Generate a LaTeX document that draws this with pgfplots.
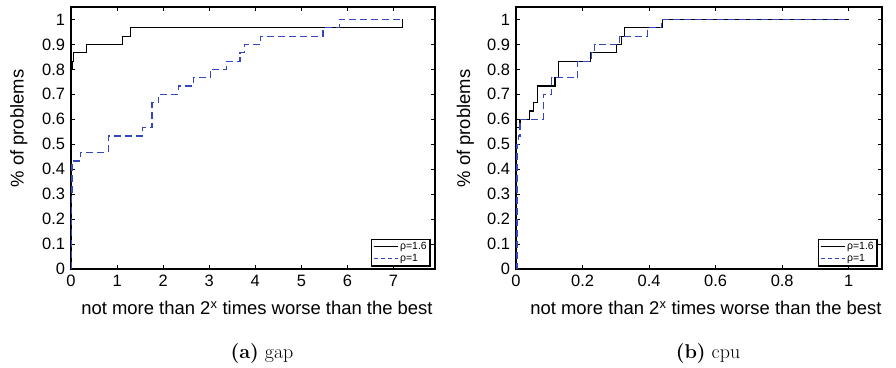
\documentclass[border=0pt]{standalone}
\usepackage{fontspec}
\newfontfamily\arial{Liberation Sans}
\usepackage{pgfplots}
\pgfplotsset{compat=1.18}
\definecolor{mblue}{RGB}{50,70,190}
\pgfplotsset{
  mystyle/.style={
    scale only axis, height=262bp, anchor=south west,
    ymin=0, ymax=1.05,
    ytick={0,0.1,0.2,0.3,0.4,0.5,0.6,0.7,0.8,0.9,1},
    yticklabels={0,0.1,0.2,0.3,0.4,0.5,0.6,0.7,0.8,0.9,1},
    tick align=inside, tick pos=both, major tick length=4bp,
    axis line style={line width=1.4bp},
    every tick/.style={black, line width=0.9bp},
    tick label style={font=\arial\fontsize{16.5}{19}\selectfont},
    /pgf/number format/assume math mode=true,
    yticklabel style={xshift=-2.5bp},
    xticklabel style={yshift=-3bp},
    legend style={at={(rel axis cs:0.989,0.009)}, anchor=south east,
      line width=1.5bp, font=\arial\fontsize{10.5}{12}\selectfont,
      inner xsep=1.5bp, inner ysep=1bp, row sep=-1bp,
      /tikz/every even column/.append style={column sep=1bp}},
    legend cell align=left,
  }
}
\begin{document}
\begin{tikzpicture}
\useasboundingbox (0,0) rectangle (896bp,368bp);
\begin{axis}[mystyle, name=A, at={(71bp,99bp)}, width=364bp,
  xmin=0, xmax=7.9, xtick={0,1,2,3,4,5,6,7}, xticklabels={0,1,2,3,4,5,6,7}]
\addlegendimage{legend image code/.code={\draw[black, solid, line width=1.1bp] (0bp,0bp) -- (24bp,0bp);}}
\addlegendimage{legend image code/.code={\draw[mblue, line width=1.1bp, dash pattern=on 4bp off 3bp] (0bp,0bp) -- (24bp,0bp);}}
\addplot[black, const plot, line width=1.2bp] coordinates {
(0,0) (0.005,0.8) (0.03,0.833) (0.06,0.867) (0.34,0.9) (1.11,0.933) (1.30,0.967) (7.2,1.0)};
\addplot[mblue, const plot, line width=1.2bp, dash pattern=on 7bp off 4bp] coordinates {
(0,0) (0.01,0.3) (0.02,0.433) (0.2,0.467) (0.81,0.533) (1.55,0.567) (1.76,0.667) (1.9,0.7)
(2.33,0.733) (2.65,0.767) (3.02,0.8) (3.38,0.833) (3.67,0.867) (3.77,0.9) (4.12,0.933)
(5.47,0.967) (5.82,1.0) (7.2,1.0)};
\legend{{ρ=1.6},{ρ=1}}
\end{axis}
\begin{axis}[mystyle, name=B, at={(516bp,99bp)}, width=366bp,
  xmin=0, xmax=1.1, xtick={0,0.2,0.4,0.6,0.8,1}, xticklabels={0,0.2,0.4,0.6,0.8,1}]
\addlegendimage{legend image code/.code={\draw[black, solid, line width=1.1bp] (0bp,0bp) -- (24bp,0bp);}}
\addlegendimage{legend image code/.code={\draw[mblue, line width=1.1bp, dash pattern=on 4bp off 3bp] (0bp,0bp) -- (24bp,0bp);}}
\addplot[black, const plot, line width=1.2bp] coordinates {
(0,0) (0.002,0.567) (0.012,0.6) (0.04,0.633) (0.052,0.667) (0.064,0.733) (0.117,0.767)
(0.127,0.833) (0.224,0.867) (0.303,0.9) (0.318,0.933) (0.326,0.967) (0.441,1.0) (1.0,1.0)};
\addplot[mblue, const plot, line width=1.2bp, dash pattern=on 7bp off 4bp] coordinates {
(0,0) (0.003,0.5) (0.008,0.533) (0.012,0.6) (0.082,0.7) (0.107,0.767) (0.185,0.833)
(0.228,0.867) (0.236,0.9) (0.312,0.933) (0.395,0.967) (0.438,1.0) (1.0,1.0)};
\legend{{ρ=1.6},{ρ=1}}
\end{axis}
% axis labels
\node[rotate=90, anchor=base, font=\arial\fontsize{18.5}{22}\selectfont] at (23.5bp,239.5bp) {\% of problems};
\node[rotate=90, anchor=base, font=\arial\fontsize{18.5}{22}\selectfont] at (470bp,239.5bp) {\% of problems};
\node[anchor=base, font=\arial\fontsize{18.5}{22}\selectfont] at (257bp,53bp) {not more than 2\textsuperscript{x} times worse than the best};
\node[anchor=base, font=\arial\fontsize{18.5}{22}\selectfont] at (706bp,53bp) {not more than 2\textsuperscript{x} times worse than the best};
% captions
\node[anchor=base, font=\fontsize{20}{24}\selectfont] at (262bp,10bp) {\textbf{(a)} gap};
\node[anchor=base, font=\fontsize{20}{24}\selectfont] at (708bp,10bp) {\textbf{(b)} cpu};
\end{tikzpicture}
\end{document}
